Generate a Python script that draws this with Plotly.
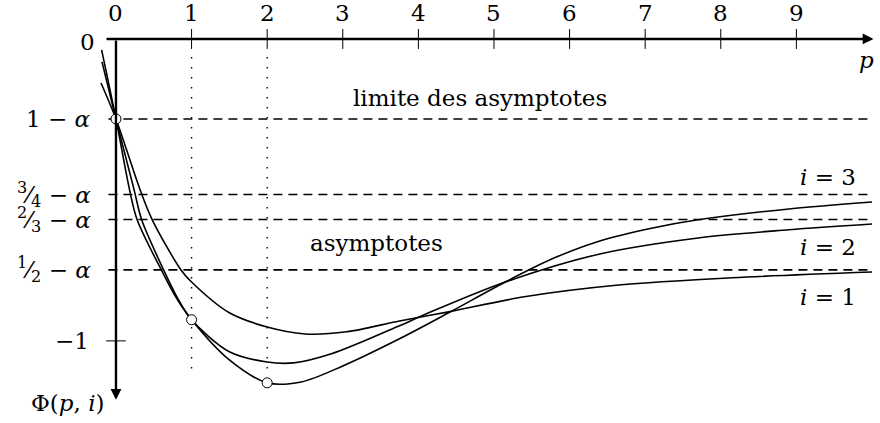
import plotly.graph_objects as go

# values
p_ticks = [0, 1, 2, 3, 4, 5, 6, 7, 8, 9]
level_values = [-0.265, -0.515, -0.598, -0.765]
level_labels = ["1 − <i>α</i>", "<sup>3</sup>⁄<sub>4</sub> − <i>α</i>",
                "<sup>2</sup>⁄<sub>3</sub> − <i>α</i>", "<sup>1</sup>⁄<sub>2</sub> − <i>α</i>"]

p_i1 = [-0.198, 0.0, 0.32, 0.48, 0.86, 1.0, 1.5, 2.0, 2.5, 3.05, 3.75,
        4.4, 5.4, 6.65, 8.15, 10.0]
phi_i1 = [-0.146, -0.265, -0.50, -0.599, -0.765, -0.805, -0.907, -0.954, -0.977,
          -0.970, -0.934, -0.904, -0.854, -0.815, -0.791, -0.772]

p_i2 = [-0.185, 0.0, 0.24, 0.34, 0.63, 0.82, 1.0, 1.5, 2.0, 2.35, 2.85, 3.75,
        4.1, 5.15, 6.4, 7.7, 8.9, 10.0]
phi_i2 = [-0.076, -0.265, -0.50, -0.599, -0.765, -0.861, -0.930, -1.036, -1.070,
          -1.073, -1.043, -0.950, -0.911, -0.805, -0.712, -0.659, -0.632, -0.613]

p_i3 = [-0.19, 0.0, 0.18, 0.28, 0.6, 0.8, 1.0, 1.5, 2.0, 2.45, 3.0, 3.75,
        4.4, 5.15, 5.8, 6.4, 7.1, 7.7, 8.9, 10.0]
phi_i3 = [-0.036, -0.265, -0.50, -0.599, -0.765, -0.858, -0.930, -1.063, -1.139,
          -1.136, -1.083, -0.993, -0.907, -0.805, -0.725, -0.669, -0.626, -0.599,
          -0.563, -0.540]

mark_p = [0, 1, 2]
mark_phi = [-0.265, -0.930, -1.139]

FONT = "DejaVu Serif"
INK = "#000000"

fig = go.Figure()

# asymptote levels (dashed)
for yv in level_values:
    fig.add_trace(go.Scatter(x=[-0.1, 10.0], y=[yv, yv], mode="lines",
                             line=dict(color=INK, width=1.6, dash="9px,6px"),
                             hoverinfo="skip"))

# dotted guides at p = 1 and p = 2
for pv in [1, 2]:
    fig.add_trace(go.Scatter(x=[pv, pv], y=[-0.06, -1.12], mode="lines",
                             line=dict(color=INK, width=1.4, dash="1.4px,8.6px"),
                             hoverinfo="skip"))

# tick marks
tx, ty = [], []
for t in p_ticks[1:]:
    tx += [t, t, None]
    ty += [0.033, -0.033, None]
tx += [-0.13, 0, None, -0.13, 0.13]
ty += [0, 0, None, -1, -1]
fig.add_trace(go.Scatter(x=tx, y=ty, mode="lines", line=dict(color=INK, width=1),
                         hoverinfo="skip"))

# curves
for px_, py_ in [(p_i1, phi_i1), (p_i2, phi_i2), (p_i3, phi_i3)]:
    fig.add_trace(go.Scatter(x=px_, y=py_, mode="lines",
                             line=dict(color=INK, width=1.6, shape="spline", smoothing=0.9),
                             hoverinfo="skip"))

fig.add_trace(go.Scatter(x=mark_p, y=mark_phi, mode="markers",
                         marker=dict(size=10, color="white", line=dict(color=INK, width=1)),
                         hoverinfo="skip"))

ann = []
# axes with arrows
ann.append(dict(x=10.02, y=0, ax=-0.14, ay=0, axref="x", ayref="y", text="",
                showarrow=True, arrowhead=2, arrowwidth=2.4, arrowsize=0.9, arrowcolor=INK))
ann.append(dict(x=0, y=-1.195, ax=0, ay=0, axref="x", ayref="y", text="",
                showarrow=True, arrowhead=2, arrowwidth=2.4, arrowsize=0.9, arrowcolor=INK))

for t in p_ticks:
    ann.append(dict(x=t, y=0.086, text=str(t), showarrow=False))
ann.append(dict(x=-0.25, y=-0.01, text="0", showarrow=False, xanchor="right"))
for yv, lab in zip(level_values, level_labels):
    ann.append(dict(x=-0.3, y=yv, text=lab, showarrow=False, xanchor="right"))
ann.append(dict(x=-0.33, y=-1.0, text="−1", showarrow=False, xanchor="right"))
ann.append(dict(x=-0.635, y=-1.205, text="Φ(<i>p</i>, <i>i</i>)", showarrow=False))
ann.append(dict(x=9.93, y=-0.07, text="<i>p</i>", showarrow=False))
ann.append(dict(x=4.81, y=-0.195, text="limite des asymptotes", showarrow=False))
ann.append(dict(x=3.44, y=-0.675, text="asymptotes", showarrow=False))
for lab, yv in [("3", -0.457), ("2", -0.689), ("1", -0.854)]:
    ann.append(dict(x=9.42, y=yv, text="<i>i</i> = " + lab, showarrow=False))

fig.update_layout(
    width=880, height=423,
    margin=dict(l=0, r=0, t=0, b=0),
    paper_bgcolor="white", plot_bgcolor="white",
    showlegend=False,
    font=dict(family=FONT, size=23, color=INK),
    xaxis=dict(range=[-1.534, 10.106], visible=False, fixedrange=True),
    yaxis=dict(range=[-1.272, 0.129], visible=False, fixedrange=True),
    annotations=ann,
)

fig.write_html("out.html", config={"displayModeBar": False},
               post_script="document.body.style.margin='0px';")
